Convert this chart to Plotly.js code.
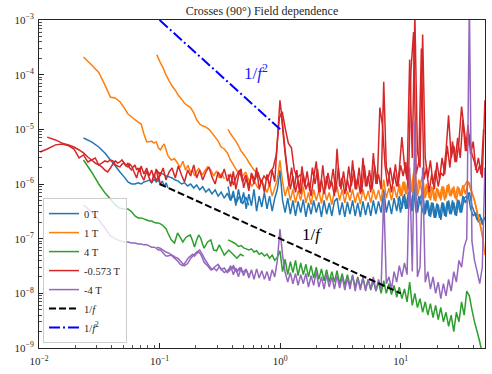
<!DOCTYPE html>
<html><head><meta charset="utf-8">
<script src="https://cdn.plot.ly/plotly-3.0.1.min.js"></script>
<style>html,body{margin:0;padding:0;background:#fff}</style>
</head><body><div id="chart" style="width:492px;height:374px"></div>
<script>
// ---------------- DATA ----------------
const seriesNames = ['0 T', '1 T', '4 T', '-0.573 T', '-4 T'];
const xTickVals = [0.01, 0.1, 1, 10];
const xTickText = ['10<sup>−2</sup>', '10<sup>−1</sup>', '10<sup>0</sup>', '10<sup>1</sup>'];
const yTickVals = [1e-9, 1e-8, 1e-7, 1e-6, 1e-5, 1e-4, 1e-3];
const yTickText = ['10<sup>−9</sup>', '10<sup>−8</sup>', '10<sup>−7</sup>', '10<sup>−6</sup>', '10<sup>−5</sup>', '10<sup>−4</sup>', '10<sup>−3</sup>'];

// frequency bins (Hz)
const freqCoarse = [0.0234, 0.0273, 0.0313, 0.0352, 0.0391, 0.043, 0.0469, 0.0508, 0.0547, 0.0586, 0.0625, 0.0664, 0.0703, 0.0742, 0.0781, 0.082, 0.0859, 0.0898, 0.0938, 0.0977, 0.1016, 0.1055, 0.1094, 0.1133, 0.1172, 0.125, 0.133, 0.141, 0.148, 0.156, 0.164, 0.172, 0.18, 0.188, 0.195, 0.203, 0.211, 0.219, 0.227, 0.234, 0.25, 0.266, 0.281, 0.297, 0.313, 0.328, 0.344, 0.375, 0.406, 0.438, 0.469, 0.5, 0.531, 0.563, 0.594, 0.625];
const freqRed = [0.0102, 0.0117, 0.0137, 0.0156, 0.0176, 0.0195, 0.0215, 0.0234, 0.0254, 0.0273, 0.0293, 0.0313, 0.0332, 0.0352, 0.0371, 0.0391, 0.041, 0.043, 0.0449, 0.0469, 0.0488, 0.0508, 0.0527, 0.0547, 0.0566, 0.0586, 0.0605, 0.0625, 0.0645, 0.0664, 0.0684, 0.0703, 0.0742, 0.0781, 0.082, 0.0859, 0.0898, 0.0938, 0.0977, 0.1016];
const freqMid = [0.095, 0.101, 0.107, 0.113, 0.12, 0.127, 0.135, 0.143, 0.152, 0.161, 0.171, 0.181, 0.192, 0.203, 0.215, 0.228, 0.242, 0.257, 0.272, 0.289, 0.306, 0.324, 0.344, 0.365, 0.387, 0.41, 0.434, 0.46, 0.488, 0.518, 0.549, 0.582, 0.617, 0.654, 0.693, 0.735, 0.779, 0.826, 0.875, 0.928, 0.984, 1.04, 1.11, 1.17, 1.24, 1.31, 1.39, 1.48];
const freqFine = [0.370, 0.389, 0.409, 0.429, 0.451, 0.474, 0.498, 0.523, 0.550, 0.578,
  0.607, 0.638, 0.670, 0.704, 0.740, 0.778, 0.817, 0.859, 0.902, 0.948,
  0.996, 1.047, 1.100, 1.156, 1.215, 1.276, 1.341, 1.409, 1.481, 1.556,
  1.635, 1.718, 1.805, 1.897, 1.993, 2.094, 2.201, 2.313, 2.430, 2.553,
  2.683, 2.819, 2.963, 3.113, 3.271, 3.437, 3.612, 3.795, 3.988, 4.191,
  4.404, 4.627, 4.862, 5.109, 5.369, 5.642, 5.928, 6.229, 6.546, 6.878,
  7.228, 7.595, 7.981, 8.386, 8.812, 9.260, 9.730, 10.22, 10.74, 11.29,
  11.86, 12.47, 13.10, 13.76, 14.46, 15.20, 15.97, 16.78, 17.63, 18.53,
  19.47, 20.46, 21.50, 22.59, 23.74, 24.94, 26.21, 27.54, 28.94, 30.41,
  31.96, 33.58, 35.29, 37.08, 38.96, 40.94, 43.02, 45.21, 47.50, 49.92];
// second (interleaved) set of bins from an overlapping segment
const freqFineB = [1.021, 1.073, 1.128, 1.185, 1.245, 1.308, 1.375, 1.445, 1.518, 1.595,
  1.676, 1.761, 1.851, 1.945, 2.043, 2.147, 2.257, 2.371, 2.491, 2.618,
  2.751, 2.891, 3.038, 3.192, 3.354, 3.524, 3.703, 3.891, 4.089, 4.297,
  4.515, 4.744, 4.985, 5.239, 5.505, 5.785, 6.078, 6.387, 6.712, 7.053,
  7.411, 7.788, 8.183, 8.599, 9.036,
  9.49, 9.97, 10.48, 11.01, 11.57, 12.16, 12.78, 13.43, 14.11, 14.83,
  15.58, 16.37, 17.2, 18.07, 19.0, 19.96, 20.98, 22.04, 23.16, 24.33,
  25.57, 26.87, 28.23, 29.66, 31.17, 32.76, 34.42, 36.17, 38.0, 39.94,
  41.97, 44.1, 46.34, 48.7];
const freqHighB = freqFineB.slice(45);

// 0 T
const psd0T_coarse = [6.95e-6, 5.9e-6, 4.75e-6, 3.7e-6, 2.75e-6, 2.13e-6, 1.66e-6, 1.35e-6, 1.09e-6, 1.0e-6,
  1.0e-6, 1.05e-6, 1.0e-6, 1.09e-6, 1.13e-6, 1.18e-6, 1.05e-6, 1.23e-6, 1.09e-6, 1.18e-6,
  1.0e-6, 1.13e-6, 9e-7, 1.05e-6, 8.5e-7];
const psd0T_mid = [1.66e-6, 1.58e-6, 1.52e-6, 1.4e-6, 1.35e-6, 1.29e-6, 1.18e-6, 1.13e-6, 1.0e-6, 1.05e-6,
  9.2e-7, 1.0e-6, 8.45e-7, 9.6e-7, 7.8e-7, 8.9e-7, 7.1e-7, 8.1e-7, 6.6e-7, 7.8e-7,
  6.0e-7, 7.1e-7, 5.5e-7, 6.8e-7, 5.0e-7, 6.3e-7, 4.6e-7, 6.0e-7, 4.3e-7, 5.8e-7, 4.1e-7];
const psd0T_fine = [9e-7, 5e-7, 7.5e-7, 4e-7, 8e-7, 4.5e-7, 7e-7, 3.5e-7, 6.5e-7, 4e-7,
  8e-7, 3.2e-7, 6e-7, 3.8e-7, 7e-7, 3.5e-7, 6e-7, 3.2e-7, 5.5e-7, 8e-7,
  1.8e-6, 5e-7, 3e-7, 5.5e-7, 2.8e-7, 5e-7, 2.6e-7, 4.8e-7, 3e-7, 5.2e-7,
  2.5e-7, 4.5e-7, 2.8e-7, 5e-7, 3e-7, 4.6e-7, 2.5e-7, 5e-7, 2.8e-7, 4.5e-7,
  2.6e-7, 4.8e-7, 5.5e-7, 2.7e-7, 4.6e-7, 2.5e-7, 4.7e-7, 2.8e-7, 5e-7, 2.6e-7,
  4.5e-7, 2.5e-7, 4.8e-7, 2.7e-7, 4.6e-7, 2.6e-7, 5e-7, 2.8e-7, 4.8e-7, 3e-7,
  8e-7, 3e-7, 5e-7, 2.8e-7, 5.5e-7, 3.2e-7, 6e-7, 3.5e-7, 6.5e-7, 3.5e-7,
  8e-7, 3.2e-7, 1.0e-6, 3e-7, 5.5e-7, 7e-7, 2.8e-7, 5e-7, 2.5e-7, 4.5e-7,
  2.4e-7, 4.2e-7, 2.2e-7, 4.5e-7, 2.5e-7, 5e-7, 2.8e-7, 4.6e-7, 2.6e-7, 5e-7,
  3e-7, 5.5e-7, 6e-7, 7e-7, 4e-7, 3e-7, 2.2e-7, 2.8e-7, 1.8e-7, 2.5e-7];
const psd0T_highB = [5.5e-7, 3e-7, 6e-7, 3.5e-7, 7e-7, 3.2e-7, 8e-7, 3e-7, 6e-7, 4e-7,
  2.7e-7, 5e-7, 2.6e-7, 4.6e-7, 2.4e-7, 4.4e-7, 2.4e-7, 4.6e-7, 2.6e-7, 4.8e-7,
  2.8e-7, 5e-7, 2.7e-7, 5.2e-7, 3e-7, 6e-7, 4.5e-7, 6.5e-7, 3.5e-7, 2.6e-7,
  3e-7, 2e-7, 2.4e-7, 1.9e-7];

// 1 T
const psd1T_coarse = [2.1e-4, 1.5e-4, 1.1e-4, 6.5e-5, 3.9e-5, 3.7e-5, 3.2e-5, 2.5e-5, 1.9e-5, 1.7e-5,
  1.5e-5, 1.35e-5, 1.25e-5, 8.2e-6, 5.9e-6, 5.9e-6, 6.1e-6, 5.6e-6, 5.9e-6, 4.6e-6,
  4.2e-6, 4.9e-6, 5.4e-6, 4.2e-6, 3.3e-6, 2.75e-6, 2.9e-6, 2.4e-6, 2.0e-6, 2.6e-6,
  1.8e-6, 2.2e-6, 1.65e-6, 1.8e-6, 1.4e-6, 1.7e-6, 1.96e-6, 1.66e-6, 1.46e-6, 1.66e-6,
  2.05e-6, 1.8e-6, 1.4e-6, 1.73e-6, 1.29e-6, 1.6e-6, 1.23e-6];
const psd1T_mid = [2.3e-4, 1.7e-4, 1.33e-4, 9.9e-5, 7.7e-5, 6.2e-5, 5.2e-5, 4.2e-5, 3.6e-5, 3.0e-5,
  2.7e-5, 2.5e-5, 2.0e-5, 1.5e-5, 1.25e-5, 1.15e-5, 1.1e-5, 1.0e-5, 8.6e-6, 7.2e-6,
  6.1e-6, 4.75e-6, 4.37e-6, 3.7e-6, 2.75e-6, 2.23e-6, 1.8e-6, 1.52e-6, 1.4e-6, 1.66e-6,
  1.18e-6, 9.2e-7, 1.09e-6, 8.45e-7];
const psd1T_fine = [1.0e-5, 8.2e-6, 7.0e-6, 6.1e-6, 5.0e-6, 4.0e-6, 3.5e-6, 3.0e-6, 2.5e-6, 2.1e-6,
  1.8e-6, 1.6e-6, 1.35e-6, 1.1e-6, 9.2e-7, 7e-7, 1.0e-6, 6e-7, 8.5e-7, 1.2e-6,
  2.7e-6, 1.1e-6, 6e-7, 9e-7, 5e-7, 8e-7, 4.5e-7, 7.5e-7, 5e-7, 9e-7,
  4.5e-7, 7e-7, 4.2e-7, 8e-7, 5e-7, 7.5e-7, 4.4e-7, 8.5e-7, 5e-7, 7e-7,
  4.2e-7, 7.5e-7, 9e-7, 5e-7, 8e-7, 4.5e-7, 7.5e-7, 5e-7, 8e-7, 4.5e-7,
  7e-7, 4.3e-7, 8e-7, 5e-7, 7.5e-7, 4.5e-7, 8e-7, 5.2e-7, 7.8e-7, 4.8e-7,
  1.2e-6, 5.5e-7, 8.5e-7, 5e-7, 9e-7, 5.5e-7, 1.0e-6, 6e-7, 1.1e-6, 6.5e-7,
  1.5e-6, 7e-7, 2e-6, 6e-7, 1.0e-6, 1.4e-6, 5.5e-7, 9e-7, 5e-7, 8.5e-7,
  4.8e-7, 8e-7, 5e-7, 9e-7, 5.5e-7, 1.0e-6, 6e-7, 9e-7, 5e-7, 8.5e-7,
  6e-7, 9e-7, 1.1e-6, 1.05e-6, 7e-7, 5e-7, 3e-7, 2e-7, 1.2e-7, 5e-8];
const psd1T_highB = [1.0e-6, 6e-7, 1.1e-6, 6.5e-7, 1.3e-6, 7e-7, 1.6e-6, 6e-7, 1.2e-6, 8e-7,
  5.5e-7, 1.0e-6, 5.5e-7, 9e-7, 5e-7, 8.5e-7, 5.5e-7, 9e-7, 5e-7, 9.5e-7,
  6e-7, 8.5e-7, 5.5e-7, 9e-7, 6e-7, 9.5e-7, 6.5e-7, 1.1e-6, 8e-7, 6e-7,
  4e-7, 2.5e-7, 1.5e-7, 8e-8];

// 4 T
const psd4T_coarse = [2.75e-6, 1.66e-6, 1.0e-6, 6.9e-7, 5.3e-7, 4.1e-7, 3.6e-7, 3.5e-7, 3.5e-7, 3.1e-7,
  2.6e-7, 2.4e-7, 2.4e-7, 2.3e-7, 2.2e-7, 2.1e-7, 2.1e-7, 2.0e-7, 1.94e-7, 1.94e-7,
  1.86e-7, 1.78e-7, 1.63e-7, 1.5e-7, 1.27e-7, 9.5e-8, 8.3e-8, 1.27e-7, 1.07e-7, 8.7e-8,
  1.03e-7, 1.12e-7, 1.17e-7, 9.1e-8, 7.0e-8, 9.5e-8, 1.17e-7, 1.03e-7, 8.0e-8, 6.7e-8,
  8.7e-8, 9.5e-8, 6.2e-8, 6.0e-8, 7.7e-8, 6.2e-8, 5.0e-8, 6.2e-8, 5.2e-8, 4.4e-8,
  5.2e-8, 4.8e-8];
const psd4T_fine = [9.5e-8, 9e-8, 8.5e-8, 8e-8, 7.2e-8, 7.5e-8, 6.8e-8, 6.5e-8, 6.2e-8, 6.5e-8,
  5.7e-8, 6e-8, 5.2e-8, 5.5e-8, 4.8e-8, 5.2e-8, 4.4e-8, 5e-8, 4e-8, 4.6e-8,
  6e-8, 2.5e-8, 4.2e-8, 2.2e-8, 3.8e-8, 2.4e-8, 4e-8, 2.1e-8, 3.6e-8, 2.2e-8,
  3.4e-8, 2e-8, 3.2e-8, 1.9e-8, 3e-8, 1.8e-8, 2.8e-8, 1.7e-8, 2.7e-8, 1.6e-8,
  2.5e-8, 1.6e-8, 2.6e-8, 1.5e-8, 2.3e-8, 1.4e-8, 2.2e-8, 1.4e-8, 2.1e-8, 1.3e-8,
  2e-8, 1.25e-8, 1.9e-8, 1.2e-8, 1.8e-8, 1.15e-8, 1.7e-8, 1.1e-8, 1.6e-8, 1.0e-8,
  1.7e-8, 1.0e-8, 1.5e-8, 9.5e-9, 1.4e-8, 8.5e-9, 1.3e-8, 8e-9, 1.2e-8, 7e-9,
  1.6e-8, 6e-9, 1.0e-8, 5.5e-9, 8e-9, 4.5e-9, 7e-9, 4e-9, 6.5e-9, 3.6e-9,
  6e-9, 3.3e-9, 5.5e-9, 3e-9, 4.5e-9, 2.5e-9, 4e-9, 2e-9, 4.5e-9, 3e-9,
  7e-9, 4e-9, 1.1e-8, 9e-9, 5e-9, 3e-9, 2e-9, 1.3e-9, 8e-10, 5e-10];

// -0.573 T
const psdM0573T_coarseA = [3.85e-6, 4.37e-6, 5.2e-6, 5.4e-6, 5.0e-6, 4.37e-6, 3.0e-6, 3.4e-6, 2.53e-6, 2.75e-6,
  3.0e-6, 2.23e-6, 2.42e-6, 2.64e-6, 2.53e-6, 2.75e-6, 2.64e-6, 2.23e-6, 2.13e-6, 2.05e-6,
  2.32e-6, 2.42e-6, 2.13e-6, 2.42e-6, 1.96e-6, 1.8e-6, 2.05e-6, 2.23e-6, 1.8e-6, 1.96e-6,
  1.66e-6, 2.13e-6, 1.52e-6, 1.96e-6, 1.4e-6, 1.8e-6, 1.29e-6, 1.88e-6, 1.18e-6, 1.66e-6];
const psdM0573T_coarseB = [7.2e-6, 6.4e-6, 5.6e-6, 5.2e-6, 4.75e-6, 4.19e-6, 3.7e-6, 3.12e-6, 2.75e-6, 2.42e-6,
  2.23e-6, 2.05e-6, 1.8e-6, 1.66e-6, 1.96e-6, 2.32e-6, 2.64e-6, 2.42e-6, 2.53e-6, 2.75e-6,
  2.42e-6, 2.23e-6, 2.05e-6, 2.32e-6, 2.13e-6, 1.8e-6, 1.52e-6, 1.29e-6, 1.66e-6, 1.96e-6,
  1.46e-6, 1.18e-6, 1.73e-6, 1.29e-6, 1.05e-6, 1.52e-6, 1.13e-6, 1.4e-6, 1.0e-6];
const psdM0573T_mid = [1.8e-6, 1.4e-6, 1.96e-6, 1.18e-6, 1.66e-6, 1.96e-6, 1.29e-6, 2.13e-6, 1.46e-6, 1.09e-6,
  1.8e-6, 1.4e-6, 2.23e-6, 1.29e-6, 1.8e-6, 1.18e-6, 1.66e-6, 2.05e-6, 1.35e-6, 1.0e-6,
  1.66e-6, 1.29e-6, 1.88e-6, 1.13e-6, 1.52e-6, 9.6e-7, 1.4e-6, 1.8e-6, 1.09e-6, 1.46e-6,
  9.2e-7, 1.52e-6, 1.18e-6, 1.66e-6, 1.05e-6, 1.4e-6, 1.18e-6, 1.66e-6, 1.96e-6, 3.4e-6,
  1.6e-5, 2.1e-5, 9.7e-6, 5.6e-6, 4.6e-6, 1.8e-6, 1.29e-6, 1.5e-6];
const psdM0573T_fine = [1.5e-6, 9e-7, 1.7e-6, 8e-7, 1.4e-6, 1.9e-6, 8.5e-7, 1.3e-6, 7.5e-7, 1.6e-6,
  1.0e-6, 2.0e-6, 8e-7, 1.2e-6, 7e-7, 1.5e-6, 9e-7, 1.8e-6, 1.1e-6, 6e-6,
  3.4e-5, 1.3e-5, 4e-6, 1.6e-6, 8e-7, 1.4e-6, 7e-7, 1.2e-6, 6.5e-7, 1.5e-6,
  8e-7, 1.1e-6, 6e-7, 1.3e-6, 2.6e-6, 7e-7, 1.2e-6, 6.5e-7, 1.4e-6, 8e-7,
  1.1e-6, 6e-7, 4.4e-6, 9e-7, 1.3e-6, 6.5e-7, 1.2e-6, 7e-7, 2.7e-6, 8e-7,
  1.3e-6, 6.5e-7, 3.0e-6, 9e-7, 1.4e-6, 7e-7, 3.7e-6, 1.0e-6, 1.5e-6, 8e-7,
  7.4e-5, 2e-6, 1.4e-6, 7e-7, 1.6e-6, 9e-7, 1.8e-6, 7.2e-6, 2.2e-6, 1.2e-6,
  1.9e-4, 3e-6, 1.2e-3, 4e-6, 2e-6, 5.4e-4, 3e-6, 1.3e-6, 2.7e-6, 1.0e-6,
  1.8e-6, 9e-7, 1.6e-6, 1.4e-6, 4e-6, 1.8e-5, 3e-6, 5e-6, 2.5e-6, 6e-6,
  2.6e-5, 1e-5, 4e-6, 8e-6, 3.5e-6, 2.5e-6, 1.6e-6, 2.2e-6, 1.3e-6, 3.4e-5];
const psdM0573T_fineB = [2.0e-5, 6e-6, 2.2e-6, 9e-7, 2e-6, 8e-7, 1.8e-6, 7e-7, 2.1e-6, 9e-7,
  1.7e-6, 7.5e-7, 2e-6, 1.0e-6, 1.9e-6, 7e-7, 2.2e-6, 8e-7, 1.6e-6, 9e-7,
  1.9e-6, 7e-7, 2.0e-6, 8e-7, 1.7e-6, 7.5e-7, 2.1e-6, 9e-7, 1.8e-6, 8e-7,
  2.0e-6, 7e-7, 2.2e-6, 9e-7, 1.8e-6, 8e-7, 2.2e-6, 1.0e-6, 2.5e-5, 1.2e-5,
  2.2e-6, 9e-7, 2.0e-6, 1.0e-6, 2.3e-6,
  9e-7, 2.2e-6, 1.4e-6, 2.5e-6, 8e-7, 1.2e-4, 6e-4, 1.5e-6, 2.5e-6, 3e-4,
  1.2e-6, 2e-6, 7e-7, 1.5e-6, 8e-7, 2.5e-6, 1.2e-6, 3e-6, 1.5e-6, 5e-6,
  2e-6, 6e-6, 2.5e-6, 7e-6, 3e-6, 1.5e-5, 4e-6, 1.2e-5, 3.5e-6, 6e-6,
  1.8e-6, 3e-6, 1.5e-6, 1.0e-5];

// -4 T
const psdM4T_coarse = [4.1e-7, 3.1e-7, 2.2e-7, 1.57e-7, 1.12e-7, 9.9e-8, 9.1e-8, 8.7e-8, 8.7e-8, 8.3e-8,
  8.3e-8, 8.0e-8, 8.0e-8, 7.7e-8, 7.7e-8, 7.4e-8, 7.0e-8, 7.0e-8, 6.7e-8, 6.2e-8,
  6.2e-8, 5.7e-8, 5.2e-8, 4.8e-8, 4.8e-8, 5.0e-8, 4.4e-8, 3.9e-8, 3.4e-8, 3.2e-8,
  3.7e-8, 4.4e-8, 4.8e-8, 5.2e-8, 4.8e-8, 5.4e-8, 5.7e-8, 5.2e-8, 4.4e-8, 3.7e-8,
  3.2e-8, 2.7e-8, 2.9e-8, 2.6e-8, 3.1e-8, 2.7e-8, 2.4e-8, 2.7e-8, 2.9e-8, 2.5e-8, 2.8e-8];
const psdM4T_mid = [7.0e-8, 6.7e-8, 6.2e-8, 5.7e-8, 5.4e-8, 5.0e-8, 4.6e-8, 4.3e-8, 3.7e-8, 3.2e-8,
  3.5e-8, 4.4e-8, 5.0e-8, 5.7e-8, 6.2e-8, 5.0e-8, 3.9e-8, 3.2e-8, 2.7e-8, 3.1e-8,
  3.4e-8, 2.7e-8, 2.9e-8, 2.4e-8, 2.7e-8, 3.2e-8, 2.5e-8, 2.9e-8, 2.4e-8, 2.7e-8, 2.2e-8];
const psdM4T_fine = [2.6e-8, 3.2e-8, 2.2e-8, 2.9e-8, 2e-8, 3e-8, 2.1e-8, 2.8e-8, 1.9e-8, 2.7e-8,
  1.8e-8, 2.8e-8, 1.9e-8, 2.6e-8, 1.8e-8, 2.5e-8, 1.7e-8, 2.7e-8, 2e-8, 4e-8,
  1.5e-7, 5e-8, 2.4e-8, 1.6e-8, 2.4e-8, 1.5e-8, 2.3e-8, 1.4e-8, 2.2e-8, 1.5e-8,
  2.3e-8, 1.3e-8, 2.1e-8, 1.4e-8, 2.5e-8, 1.3e-8, 2e-8, 1.2e-8, 2.2e-8, 1.3e-8,
  2e-8, 1.2e-8, 2.1e-8, 1.25e-8, 2e-8, 1.15e-8, 1.9e-8, 1.2e-8, 2.2e-8, 1.1e-8,
  1.9e-8, 1.15e-8, 2e-8, 1.1e-8, 1.8e-8, 1.2e-8, 2e-8, 1.1e-8, 1.8e-8, 1.2e-8,
  7e-7, 1.5e-8, 2e-8, 1.2e-8, 2.5e-8, 1.6e-8, 3.2e-8, 2e-8, 3.6e-8, 2.2e-8,
  2e-6, 2.5e-8, 1.4e-5, 2e-8, 3e-8, 2e-6, 1.6e-8, 2.5e-8, 1.2e-8, 2e-8,
  1.0e-8, 1.6e-8, 8e-9, 1.5e-8, 9e-9, 1.8e-8, 1.1e-8, 2.5e-8, 1.6e-8, 4e-8,
  3e-8, 7e-8, 1.0e-7, 2e-3, 9e-8, 4e-8, 2.5e-8, 1.5e-8, 3e-8, 2e-6];

// guide lines
const guide1f_x = [0.1, 10];
const guide1f_y = [1e-6, 1e-8];
const guide1f2_x = [0.1, 1];
const guide1f2_y = [1e-3, 1e-5];

// ---------------- STYLE ----------------
const colors = ['#1f77b4', '#ff7f0e', '#2ca02c', '#d62728', '#9467bd'];
const FONT = "'Liberation Serif', 'Times New Roman', 'DejaVu Serif', serif";
const INK = '#262626';

function seg(x, y, idx, show) {
  return {type: 'scatter', mode: 'lines', x: x, y: y, name: seriesNames[idx],
    showlegend: !!show, hoverinfo: 'skip',
    line: {color: colors[idx], width: 1.5, simplify: false}};
}

const traces = [
  seg(freqCoarse, psd0T_coarse, 0, true),
  seg(freqMid, psd0T_mid, 0),
  seg(freqFine, psd0T_fine, 0),
  seg(freqHighB, psd0T_highB, 0),
  seg(freqCoarse, psd1T_coarse, 1, true),
  seg(freqMid, psd1T_mid, 1),
  seg(freqFine, psd1T_fine, 1),
  seg(freqHighB, psd1T_highB, 1),
  seg(freqCoarse, psd4T_coarse, 2, true),
  seg(freqFine, psd4T_fine, 2),
  seg(freqRed, psdM0573T_coarseA, 3, true),
  seg(freqRed.slice(1), psdM0573T_coarseB, 3),
  seg(freqMid, psdM0573T_mid, 3),
  seg(freqFine, psdM0573T_fine, 3),
  seg(freqFineB, psdM0573T_fineB, 3),
  seg(freqCoarse, psdM4T_coarse, 4, true),
  seg(freqMid, psdM4T_mid, 4),
  seg(freqFine, psdM4T_fine, 4),
  {type: 'scatter', mode: 'lines', x: guide1f_x, y: guide1f_y, name: '1/<i>f</i>', hoverinfo: 'skip',
    line: {color: '#000000', width: 2, dash: '7px,3px'}},
  {type: 'scatter', mode: 'lines', x: guide1f2_x, y: guide1f2_y, name: '1/<i>f</i><sup>2</sup>', hoverinfo: 'skip',
    line: {color: '#0000ff', width: 2, dash: '11px,3px,2px,3px'}}
];

function minorVals(lo, hi) {
  const v = [];
  for (let e = lo; e < hi; e++) for (let k = 2; k <= 9; k++) v.push(k * Math.pow(10, e));
  return v;
}

const axisCommon = {
  type: 'log', showgrid: false, zeroline: false,
  showline: true, mirror: true, linecolor: INK, linewidth: 1,
  ticks: 'inside', ticklen: 5, tickwidth: 1, tickcolor: INK,
  tickmode: 'array',
  tickfont: {family: FONT, size: 11, color: INK}
};

const layout = {
  width: 492, height: 374,
  margin: {l: 39, r: 7, t: 20, b: 26, pad: 0},
  paper_bgcolor: '#ffffff', plot_bgcolor: '#ffffff',
  hovermode: false,
  font: {family: FONT, color: INK},
  title: {text: 'Crosses (90°) Field dependence', font: {family: FONT, size: 12, color: INK},
    xref: 'paper', x: 0.5, xanchor: 'center', yref: 'container', y: 0.971, yanchor: 'middle'},
  xaxis: Object.assign({}, axisCommon, {range: [-2, Math.log10(50)], tickvals: xTickVals, ticktext: xTickText,
    ticklabelstandoff: 3,
    minor: {tickmode: 'array', tickvals: minorVals(-2, 2), ticks: 'inside', ticklen: 3, tickwidth: 0.8, tickcolor: INK, showgrid: false}}),
  yaxis: Object.assign({}, axisCommon, {range: [-9, -3], tickvals: yTickVals, ticktext: yTickText,
    ticklabelstandoff: 2,
    minor: {tickmode: 'array', tickvals: minorVals(-9, -3), ticks: 'inside', ticklen: 3, tickwidth: 0.8, tickcolor: INK, showgrid: false}}),
  legend: {x: 0.009, y: 0.015, xanchor: 'left', yanchor: 'bottom',
    bgcolor: 'rgba(255,255,255,0.8)', bordercolor: '#cccccc', borderwidth: 1,
    font: {family: FONT, size: 10.5, color: INK}, tracegroupgap: 0, itemwidth: 30},
  annotations: [
    {xref: 'x', yref: 'y', x: -0.2, y: -3.95, text: '1/<i>f</i><sup>2</sup>', showarrow: false,
      font: {family: FONT, size: 17, color: '#2020ff'}},
    {xref: 'x', yref: 'y', x: 0.262, y: -6.93, text: '1/<i>f</i>', showarrow: false,
      font: {family: FONT, size: 17, color: '#000000'}}
  ]
};

Plotly.newPlot('chart', traces, layout, {displayModeBar: false, staticPlot: true});
</script>
</body></html>
